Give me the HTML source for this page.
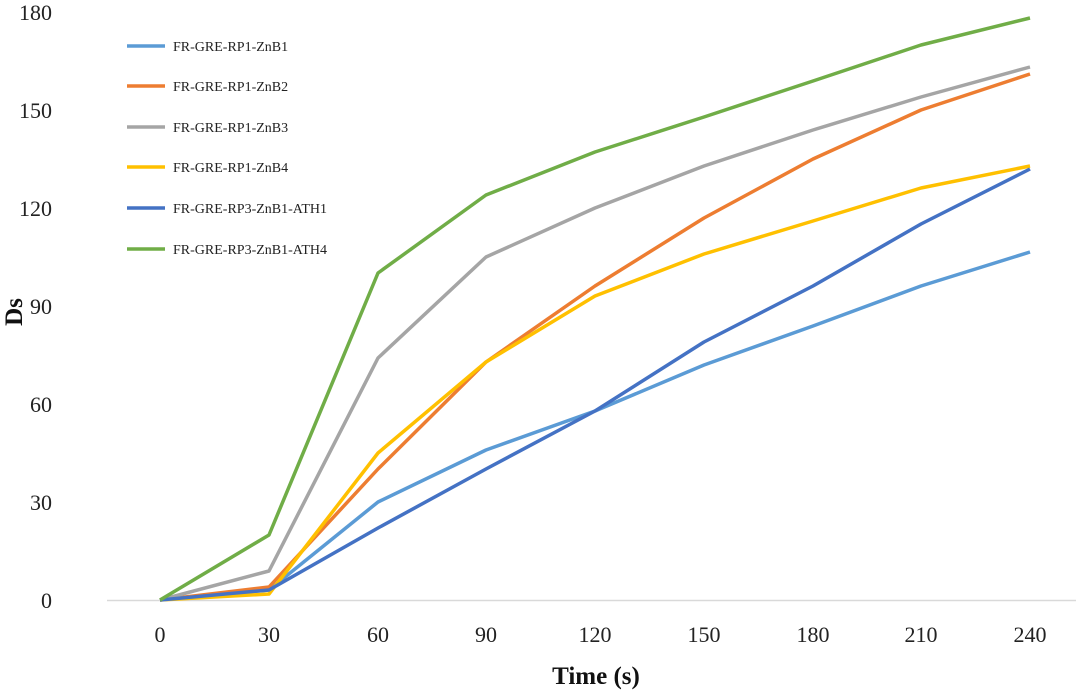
<!DOCTYPE html>
<html><head><meta charset="utf-8"><style>
html,body{margin:0;padding:0;background:#fff;}
text{font-family:"Liberation Serif",serif;}
</style></head><body>
<svg width="1080" height="693" viewBox="0 0 1080 693" xmlns="http://www.w3.org/2000/svg">
<rect width="1080" height="693" fill="#fff"/>
<line x1="107" y1="600.5" x2="1076" y2="600.5" stroke="#d9d9d9" stroke-width="1.5"/>
<g font-size="22" fill="#222" text-anchor="end">
<text x="52" y="608">0</text>
<text x="52" y="510">30</text>
<text x="52" y="412">60</text>
<text x="52" y="314">90</text>
<text x="52" y="216">120</text>
<text x="52" y="118">150</text>
<text x="52" y="20">180</text>
</g>
<g font-size="22" fill="#222" text-anchor="middle">
<text x="160" y="642">0</text>
<text x="269" y="642">30</text>
<text x="378" y="642">60</text>
<text x="486" y="642">90</text>
<text x="595" y="642">120</text>
<text x="704" y="642">150</text>
<text x="813" y="642">180</text>
<text x="921" y="642">210</text>
<text x="1030" y="642">240</text>
</g>
<text x="596" y="684" font-size="25" font-weight="bold" text-anchor="middle" fill="#111">Time (s)</text>
<text x="22" y="312" font-size="25" font-weight="bold" text-anchor="middle" fill="#111" transform="rotate(-90 22 312)">Ds</text>
<g fill="none" stroke-width="3.5" stroke-linejoin="round">
<polyline stroke="#5B9BD5" points="160,600 269,590 378,502 486,450 595,411 704,365 813,326 921,286 1030,252"/>
<polyline stroke="#ED7D31" points="160,600 269,587 378,469 486,362 595,286 704,218 813,159 921,110 1030,74"/>
<polyline stroke="#A5A5A5" points="160,600 269,571 378,358 486,257 595,208 704,166 813,130 921,97 1030,67"/>
<polyline stroke="#FFC000" points="160,600 269,594 378,453 486,362 595,296 704,254 813,221 921,188 1030,166"/>
<polyline stroke="#4472C4" points="160,600 269,590 378,528 486,469 595,411 704,342 813,286 921,224 1030,169"/>
<polyline stroke="#70AD47" points="160,600 269,535 378,273 486,195 595,152 704,117 813,81 921,45 1030,18"/>
</g>
<g stroke-width="3.5">
<line x1="127" y1="46" x2="165" y2="46" stroke="#5B9BD5"/>
<line x1="127" y1="86" x2="165" y2="86" stroke="#ED7D31"/>
<line x1="127" y1="127" x2="165" y2="127" stroke="#A5A5A5"/>
<line x1="127" y1="167" x2="165" y2="167" stroke="#FFC000"/>
<line x1="127" y1="208" x2="165" y2="208" stroke="#4472C4"/>
<line x1="127" y1="249" x2="165" y2="249" stroke="#70AD47"/>
</g>
<g font-size="14" fill="#222">
<text x="173" y="51">FR-GRE-RP1-ZnB1</text>
<text x="173" y="91">FR-GRE-RP1-ZnB2</text>
<text x="173" y="132">FR-GRE-RP1-ZnB3</text>
<text x="173" y="172">FR-GRE-RP1-ZnB4</text>
<text x="173" y="213">FR-GRE-RP3-ZnB1-ATH1</text>
<text x="173" y="254">FR-GRE-RP3-ZnB1-ATH4</text>
</g>
</svg>
</body></html>
